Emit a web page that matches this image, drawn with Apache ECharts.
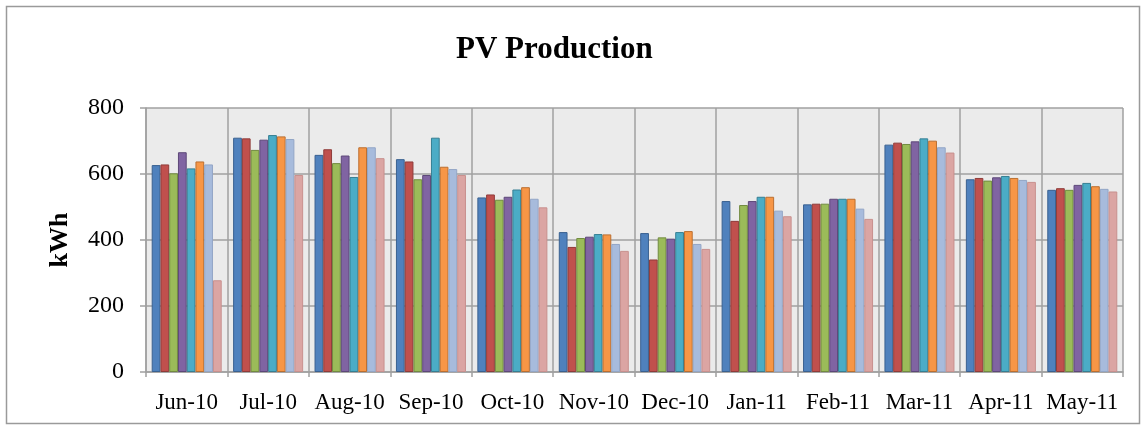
<!DOCTYPE html>
<html>
<head>
<meta charset="utf-8">
<title>PV Production</title>
<script src="https://cdn.jsdelivr.net/npm/echarts@6/dist/echarts.min.js"></script>
<style>
    html, body { margin: 0; padding: 0; background: #fff; }
    #chart { width: 1148px; height: 433px; }
</style>
</head>
<body>
<div id="chart"></div>
<script>
// months on the x axis
const months = ['Jun-10', 'Jul-10', 'Aug-10', 'Sep-10', 'Oct-10', 'Nov-10',
    'Dec-10', 'Jan-11', 'Feb-11', 'Mar-11', 'Apr-11', 'May-11'];

// one array per bar colour (kWh)
const seriesBlue     = [627, 710, 658, 645, 529, 424, 421, 518, 508, 689, 584, 552];
const seriesRed      = [629, 708, 675, 638, 538, 379, 341, 458, 510, 695, 588, 557];
const seriesGreen    = [602, 673, 633, 584, 522, 406, 408, 506, 510, 691, 580, 552];
const seriesPurple   = [666, 704, 656, 597, 531, 410, 404, 518, 525, 699, 590, 567];
const seriesTeal     = [617, 718, 591, 710, 553, 418, 424, 531, 525, 708, 594, 573];
const seriesOrange   = [638, 714, 681, 622, 560, 417, 427, 531, 525, 701, 588, 563];
const seriesLightBlue = [629, 706, 681, 615, 525, 388, 388, 489, 495, 681, 582, 555];
const seriesPink     = [278, 597, 648, 597, 499, 367, 373, 472, 464, 665, 576, 547];

const yTicks = [0, 200, 400, 600, 800];

const serif = '"Liberation Serif", "DejaVu Serif", serif';

// fill / border colour pairs
const barStyles = [
    { data: seriesBlue, fill: '#4f81bd', border: '#3a6190' },
    { data: seriesRed, fill: '#c0504d', border: '#8f3b39' },
    { data: seriesGreen, fill: '#9bbb59', border: '#728b40' },
    { data: seriesPurple, fill: '#8064a2', border: '#5d4878' },
    { data: seriesTeal, fill: '#4bacc6', border: '#367f93' },
    { data: seriesOrange, fill: '#f79646', border: '#bb6f30' },
    { data: seriesLightBlue, fill: '#a7bbdc', border: '#93a6c6' },
    { data: seriesPink, fill: '#dba5a3', border: '#c8908e' }
];

const chart = echarts.init(document.getElementById('chart'));

const option = {
    animation: false,
    backgroundColor: '#fff',
    title: {
        text: 'PV Production',
        left: 451,
        top: 29,
        textStyle: {
            fontFamily: serif,
            fontWeight: 'bold',
            fontSize: 31,
            color: '#000'
        }
    },
    graphic: [
        {
            type: 'rect',
            shape: { x: 6.5, y: 6.5, width: 1133, height: 417 },
            style: { fill: 'none', stroke: '#9a9a9a', lineWidth: 1.5 },
            silent: true
        }
    ],
    grid: {
        left: 146,
        right: 25,
        top: 108,
        bottom: 61,
        show: true,
        backgroundColor: '#ebebeb',
        borderWidth: 0
    },
    xAxis: {
        type: 'category',
        data: months,
        axisLine: { lineStyle: { color: '#a0a0a0', width: 1.5 } },
        axisTick: { show: true, length: 5, lineStyle: { color: '#a0a0a0', width: 1.5 } },
        splitLine: { show: true, lineStyle: { color: '#a0a0a0', width: 1.5 } },
        axisLabel: {
            margin: 19,
            fontFamily: serif,
            fontSize: 23,
            color: '#000',
            interval: 0
        }
    },
    yAxis: {
        type: 'value',
        min: yTicks[0],
        max: yTicks[yTicks.length - 1],
        interval: 200,
        name: 'kWh',
        nameLocation: 'middle',
        nameRotate: 90,
        nameGap: 73,
        nameTextStyle: {
            fontFamily: serif,
            fontWeight: 'bold',
            fontSize: 26,
            color: '#000'
        },
        axisLine: { show: true, lineStyle: { color: '#a0a0a0', width: 1.5 } },
        axisTick: { show: true, length: 6, lineStyle: { color: '#a0a0a0', width: 1.5 } },
        splitLine: { show: true, lineStyle: { color: '#a0a0a0', width: 1.5 } },
        axisLabel: {
            margin: 22,
            fontFamily: serif,
            fontSize: 24,
            color: '#000'
        }
    },
    series: barStyles.map((s, i) => ({
        name: 'S' + (i + 1),
        type: 'bar',
        data: s.data,
        barGap: '0%',
        barCategoryGap: '14%',
        itemStyle: {
            color: s.fill,
            borderColor: s.border,
            borderWidth: 1
        }
    }))
};

chart.setOption(option);
</script>
</body>
</html>
